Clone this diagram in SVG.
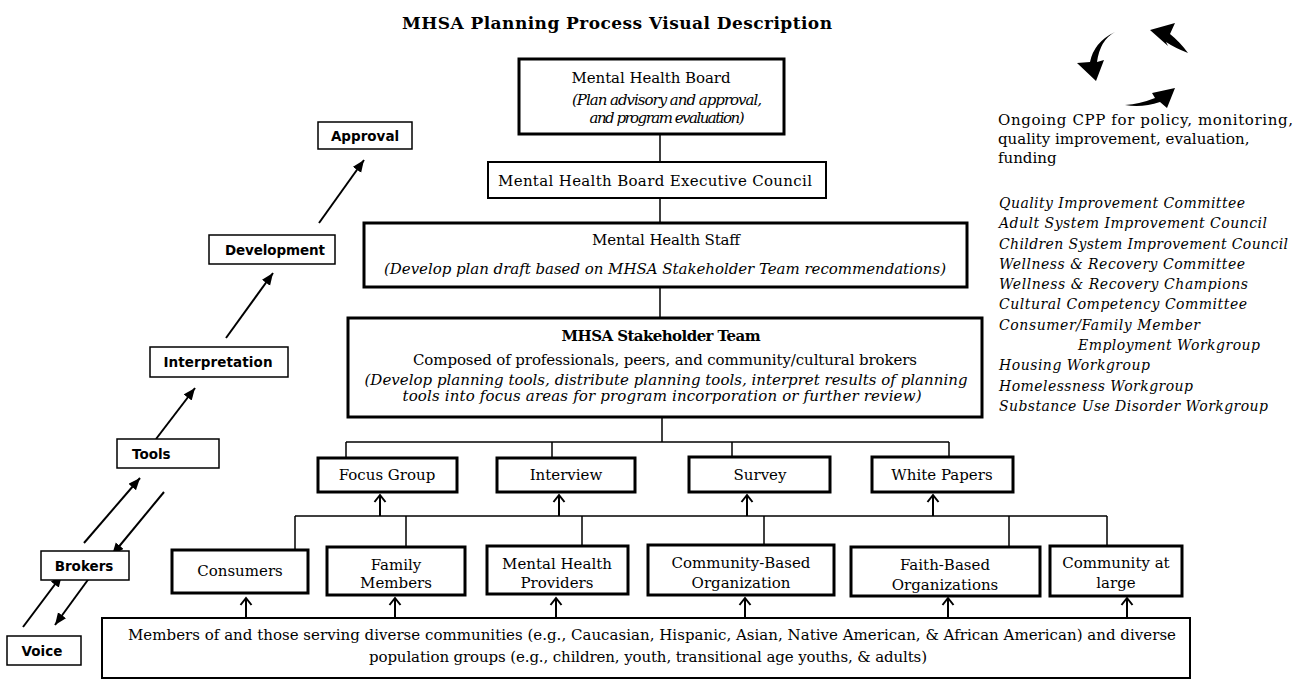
<svg xmlns="http://www.w3.org/2000/svg" width="1302" height="681" viewBox="0 0 1302 681">
<style>
.bg{fill:#fff}
.box{fill:#fff;stroke:#000;stroke-width:3}
.box2{fill:#fff;stroke:#000;stroke-width:2}
.sbox{fill:#fff;stroke:#000;stroke-width:1.5}
.ln{fill:none;stroke:#000;stroke-width:1.5}
.ar{fill:none;stroke:#000;stroke-width:2}
.t{font-family:"DejaVu Serif","Liberation Serif",serif;font-size:15px;fill:#000}
.ti{font-family:"DejaVu Serif","Liberation Serif",serif;font-size:15px;font-style:italic;fill:#000}
.tb{font-family:"DejaVu Serif","Liberation Serif",serif;font-size:17px;font-weight:bold;fill:#000}
.s{font-family:"DejaVu Sans","Liberation Sans",sans-serif;font-size:13.5px;font-weight:bold;fill:#000}
.r{font-family:"DejaVu Serif","Liberation Serif",serif;font-size:14px;font-style:italic;fill:#000}
.m{text-anchor:middle}
</style>
<defs>
<marker id="fa" markerUnits="userSpaceOnUse" markerWidth="14" markerHeight="12" refX="12" refY="5" orient="auto">
<path d="M0,0 L12,5 L0,10 Z" fill="#000"/>
</marker>
<marker id="oa" markerUnits="userSpaceOnUse" markerWidth="14" markerHeight="14" refX="8" refY="7" orient="auto">
<path d="M1,1.5 L8,7 L1,12.5" fill="none" stroke="#000" stroke-width="2"/>
</marker>
</defs>
<rect class="bg" x="0" y="0" width="1302" height="681"/>

<text id="title" class="tb" x="617" y="29" text-anchor="middle" textLength="430">MHSA Planning Process Visual Description</text>

<g id="connectors">
<line class="ln" x1="660" y1="135" x2="660" y2="162"/>
<line class="ln" x1="660" y1="198" x2="660" y2="223"/>
<line class="ln" x1="660" y1="287" x2="660" y2="318"/>
<line class="ln" x1="662" y1="417" x2="662" y2="442"/>
<line class="ln" x1="346" y1="442" x2="949" y2="442"/>
<line class="ln" x1="346" y1="442" x2="346" y2="457"/>
<line class="ln" x1="552" y1="442" x2="552" y2="457"/>
<line class="ln" x1="732" y1="442" x2="732" y2="457"/>
<line class="ln" x1="949" y1="442" x2="949" y2="457"/>
<line class="ln" x1="295" y1="516" x2="1107" y2="516"/>
<line class="ar" x1="380" y1="516" x2="380" y2="495" marker-end="url(#oa)"/>
<line class="ar" x1="559" y1="516" x2="559" y2="495" marker-end="url(#oa)"/>
<line class="ar" x1="747" y1="516" x2="747" y2="495" marker-end="url(#oa)"/>
<line class="ar" x1="933" y1="516" x2="933" y2="495" marker-end="url(#oa)"/>
<line class="ln" x1="295" y1="516" x2="295" y2="550"/>
<line class="ln" x1="406" y1="516" x2="406" y2="547"/>
<line class="ln" x1="582" y1="516" x2="582" y2="546"/>
<line class="ln" x1="764" y1="516" x2="764" y2="545"/>
<line class="ln" x1="1009" y1="516" x2="1009" y2="547"/>
<line class="ln" x1="1107" y1="516" x2="1107" y2="546"/>
<line class="ar" x1="246" y1="617" x2="246" y2="598" marker-end="url(#oa)"/>
<line class="ar" x1="395" y1="617" x2="395" y2="598" marker-end="url(#oa)"/>
<line class="ar" x1="556" y1="617" x2="556" y2="598" marker-end="url(#oa)"/>
<line class="ar" x1="745" y1="617" x2="745" y2="598" marker-end="url(#oa)"/>
<line class="ar" x1="948" y1="617" x2="948" y2="598" marker-end="url(#oa)"/>
<line class="ar" x1="1127" y1="617" x2="1127" y2="598" marker-end="url(#oa)"/>
<line class="ar" x1="23" y1="627" x2="62" y2="575" marker-end="url(#fa)"/>
<line class="ar" x1="90" y1="577" x2="55" y2="625" marker-end="url(#fa)"/>
<line class="ar" x1="84" y1="543" x2="140" y2="478" marker-end="url(#fa)"/>
<line class="ar" x1="164" y1="492" x2="112" y2="555" marker-end="url(#fa)"/>
<line class="ar" x1="156" y1="439" x2="195" y2="388" marker-end="url(#fa)"/>
<line class="ar" x1="226" y1="338" x2="273" y2="273" marker-end="url(#fa)"/>
<line class="ar" x1="319" y1="223" x2="364" y2="160" marker-end="url(#fa)"/>
</g>

<g id="cycle">
<path d="M1115,32 Q1100,40 1097,62 L1104,60 L1096,81 L1077,63 L1090,62 Q1094,42 1115,32 Z" fill="#000"/>
<path d="M1188,53 Q1175,48 1166,42 L1168,46 L1150,30 L1175,23 L1170,34 Q1180,42 1188,53 Z" fill="#000"/>
<path d="M1125,105 Q1140,104 1155,98 L1152,93 L1175,88 L1167,108 L1160,102 Q1142,108 1125,105 Z" fill="#000"/>
</g>

<g id="mhb">
<rect class="box" x="519" y="59" width="265" height="75"/>
<text class="t m" x="651" y="83" textLength="159">Mental Health Board</text>
<text class="ti m" x="667" y="105" textLength="190">(Plan advisory and approval,</text>
<text class="ti m" x="667" y="123" textLength="155">and program evaluation)</text>
</g>
<g id="exec">
<rect class="box2" x="488" y="162" width="338" height="36"/>
<text class="t m" x="655" y="186" textLength="314">Mental Health Board Executive Council</text>
</g>
<g id="staff">
<rect class="box" x="364" y="223" width="603" height="64"/>
<text class="t m" x="666" y="245" textLength="148">Mental Health Staff</text>
<text class="ti m" x="665" y="274" textLength="562">(Develop plan draft based on MHSA Stakeholder Team recommendations)</text>
</g>
<g id="stakeholder">
<rect class="box" x="348" y="318" width="634" height="99"/>
<text class="t m" x="661" y="341" font-weight="bold" textLength="199">MHSA Stakeholder Team</text>
<text class="t m" x="665" y="365" textLength="504">Composed of professionals, peers, and community/cultural brokers</text>
<text class="ti m" x="666" y="385" textLength="603">(Develop planning tools, distribute planning tools, interpret results of planning</text>
<text class="ti m" x="662" y="401" textLength="519">tools into focus areas for program incorporation or further review)</text>
</g>

<g id="focus"><rect class="box" x="318" y="458" width="139" height="34"/><text class="t m" x="387" y="480">Focus Group</text></g>
<g id="interview"><rect class="box" x="497" y="458" width="138" height="34"/><text class="t m" x="566" y="480">Interview</text></g>
<g id="survey"><rect class="box" x="689" y="457" width="141" height="35"/><text class="t m" x="760" y="480">Survey</text></g>
<g id="whitepapers"><rect class="box" x="872" y="457" width="141" height="35"/><text class="t m" x="942" y="480">White Papers</text></g>

<g id="consumers"><rect class="box" x="172" y="550" width="136" height="43"/><text class="t m" x="240" y="576">Consumers</text></g>
<g id="family"><rect class="box" x="327" y="547" width="138" height="48"/><text class="t m" x="396" y="570">Family</text><text class="t m" x="396" y="588">Members</text></g>
<g id="providers"><rect class="box" x="487" y="546" width="141" height="48"/><text class="t m" x="557" y="569">Mental Health</text><text class="t m" x="557" y="588">Providers</text></g>
<g id="cbo"><rect class="box" x="648" y="545" width="186" height="50"/><text class="t m" x="741" y="568">Community-Based</text><text class="t m" x="741" y="588">Organization</text></g>
<g id="faith"><rect class="box" x="851" y="547" width="189" height="49"/><text class="t m" x="945" y="570">Faith-Based</text><text class="t m" x="945" y="590">Organizations</text></g>
<g id="community"><rect class="box" x="1050" y="546" width="132" height="50"/><text class="t m" x="1116" y="568">Community at</text><text class="t m" x="1116" y="588">large</text></g>

<g id="members">
<rect class="box2" x="102" y="618" width="1088" height="60"/>
<text class="t" x="128" y="640" font-size="14.5" textLength="1048">Members of and those serving diverse communities (e.g., Caucasian, Hispanic, Asian, Native American, &amp; African American) and diverse</text>
<text class="t" x="369" y="662" font-size="14.5" textLength="558">population groups (e.g., children, youth, transitional age youths, &amp; adults)</text>
</g>

<g id="voice"><rect class="sbox" x="7" y="636" width="74" height="29"/><text class="s m" x="42" y="656">Voice</text></g>
<g id="brokers"><rect class="sbox" x="41" y="551" width="88" height="29"/><text class="s m" x="84" y="571">Brokers</text></g>
<g id="tools"><rect class="sbox" x="117" y="439" width="102" height="29"/><text class="s" x="132" y="459">Tools</text></g>
<g id="interpretation"><rect class="sbox" x="150" y="347" width="138" height="30"/><text class="s m" x="218" y="367" textLength="109">Interpretation</text></g>
<g id="development"><rect class="sbox" x="209" y="235" width="126" height="29"/><text class="s" x="225" y="255" textLength="100">Development</text></g>
<g id="approval"><rect class="sbox" x="318" y="122" width="94" height="27"/><text class="s m" x="365" y="141">Approval</text></g>

<g id="ongoing">
<text class="t" x="998" y="125" textLength="295">Ongoing CPP for policy, monitoring,</text>
<text class="t" x="998" y="144">quality improvement, evaluation,</text>
<text class="t" x="998" y="163">funding</text>
<text class="r" x="999" y="208" textLength="246">Quality Improvement Committee</text>
<text class="r" x="999" y="228" textLength="268">Adult System Improvement Council</text>
<text class="r" x="999" y="249" textLength="289">Children System Improvement Council</text>
<text class="r" x="999" y="269" textLength="246">Wellness &amp; Recovery Committee</text>
<text class="r" x="999" y="289" textLength="249">Wellness &amp; Recovery Champions</text>
<text class="r" x="999" y="309" textLength="248">Cultural Competency Committee</text>
<text class="r" x="999" y="330" textLength="201">Consumer/Family Member</text>
<text class="r" x="1078" y="350" textLength="182">Employment Workgroup</text>
<text class="r" x="999" y="370" textLength="151">Housing Workgroup</text>
<text class="r" x="999" y="391" textLength="194">Homelessness Workgroup</text>
<text class="r" x="999" y="411" textLength="269">Substance Use Disorder Workgroup</text>
</g>
</svg>
